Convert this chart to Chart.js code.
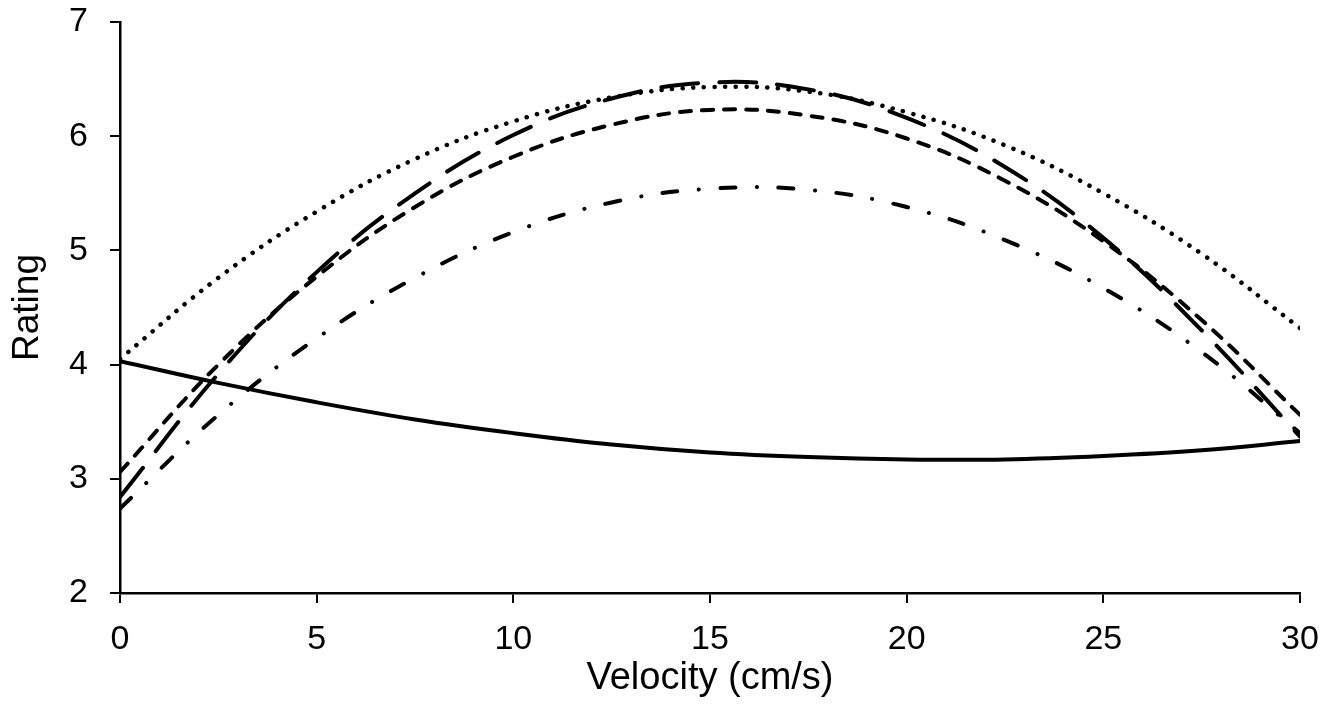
<!DOCTYPE html>
<html>
<head>
<meta charset="utf-8">
<script src="https://cdn.jsdelivr.net/npm/chart.js@4.4.1/dist/chart.umd.min.js"></script>
<style>
  html, body { margin: 0; padding: 0; background: #fff; }
  #wrap { width: 1328px; height: 711px; }
</style>
</head>
<body>
<div id="wrap"><canvas id="c"></canvas></div>
<script>
// Velocity (cm/s) sample positions, every 2.5 cm/s
const velocity = [0, 2.5, 5, 7.5, 10, 12.5, 15, 17.5, 20, 22.5, 25, 27.5, 30];

// Rating values per curve
const solidRating    = [4.03, 3.84, 3.67, 3.52, 3.40, 3.30, 3.23, 3.19, 3.17, 3.17, 3.20, 3.25, 3.33];
const dottedRating   = [4.05, 4.76, 5.34, 5.80, 6.13, 6.34, 6.43, 6.39, 6.21, 5.92, 5.50, 4.97, 4.32];
const longDashRating = [2.84, 3.92, 4.81, 5.50, 6.01, 6.33, 6.47, 6.41, 6.16, 5.73, 5.11, 4.30, 3.37];
const shortDashRating= [3.06, 4.00, 4.77, 5.38, 5.82, 6.10, 6.23, 6.18, 5.98, 5.61, 5.08, 4.39, 3.56];
const dashDotRating  = [2.74, 3.56, 4.23, 4.76, 5.16, 5.42, 5.54, 5.53, 5.38, 5.09, 4.67, 4.11, 3.40];

const xTicks = [0, 5, 10, 15, 20, 25, 30];
const yTicks = [2, 3, 4, 5, 6, 7];

const FONT = "'Liberation Sans', Arial, sans-serif";

const pts = (ys) => velocity.map((x, i) => ({ x, y: ys[i] }));

function series(label, ys, dash, width) {
  return {
    label,
    data: pts(ys),
    borderColor: '#000',
    borderWidth: width || 4,
    borderDash: dash,
    borderCapStyle: 'round',
    borderJoinStyle: 'round',
    pointRadius: 0,
    tension: 0.4,
    fill: false,
  };
}

// drop the label overflow padding so the plot box sits where the reference has it
function noOverflow(s) {
  s.paddingTop = 0;
  s.paddingBottom = 0;
  s.paddingLeft = 0;
  s.paddingRight = 0;
}

new Chart(document.getElementById('c'), {
  type: 'line',
  data: {
    datasets: [
      series('solid', solidRating, []),
      series('dotted', dottedRating, [0.1, 10.5], 4.5),
      series('long dash', longDashRating, [37, 21]),
      series('short dash', shortDashRating, [11, 11]),
      series('dash dot', dashDotRating, [15, 21.5, 0.1, 21.5]),
    ],
  },
  options: {
    responsive: true,
    maintainAspectRatio: false,
    animation: false,
    layout: { padding: { left: 0, right: 28, top: 22, bottom: 0 } },
    plugins: { legend: { display: false }, tooltip: { enabled: false } },
    scales: {
      x: {
        type: 'linear',
        min: 0,
        max: 30,
        afterBuildTicks: (s) => { s.ticks = xTicks.map((v) => ({ value: v })); },
        afterFit: (s) => { s.height = 118; noOverflow(s); },
        ticks: { color: '#000', font: { family: FONT, size: 34 }, padding: 16, maxRotation: 0 },
        grid: { drawOnChartArea: false, drawTicks: true, tickLength: 10, color: '#000', lineWidth: 2 },
        border: { color: '#000', width: 2.5 },
        title: { display: true, text: 'Velocity (cm/s)', color: '#000', font: { family: FONT, size: 38 }, padding: { top: 0, bottom: 10 } },
      },
      y: {
        type: 'linear',
        min: 2,
        max: 7,
        afterBuildTicks: (s) => { s.ticks = yTicks.map((v) => ({ value: v })); },
        afterFit: (s) => { s.width = 120; noOverflow(s); },
        ticks: { color: '#000', font: { family: FONT, size: 34 }, padding: 22 },
        grid: { drawOnChartArea: false, drawTicks: true, tickLength: 10, color: '#000', lineWidth: 2 },
        border: { color: '#000', width: 2.5 },
        title: { display: true, text: 'Rating', color: '#000', font: { family: FONT, size: 37 }, padding: { top: 6, bottom: 0 } },
      },
    },
  },
});
</script>
</body>
</html>
